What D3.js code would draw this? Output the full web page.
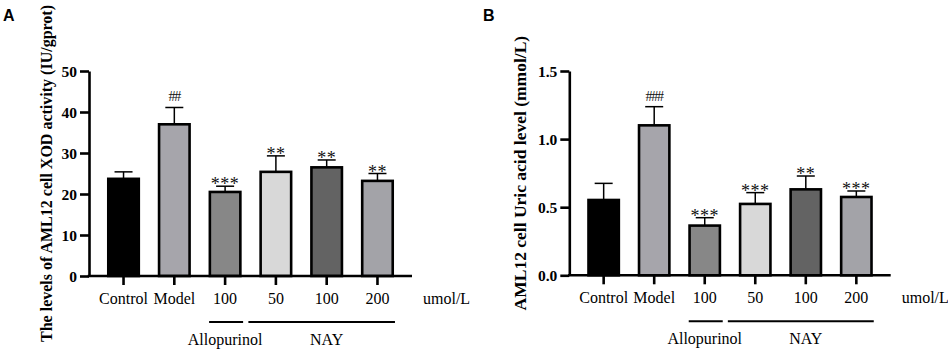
<!DOCTYPE html>
<html>
<head>
<meta charset="utf-8">
<script src="https://cdn.jsdelivr.net/npm/d3@7"></script>
<style>
  html, body { margin: 0; padding: 0; background: #fff; }
  svg { display: block; }
  .serif { font-family: "Liberation Serif", "Times New Roman", Times, serif; }
  .sans { font-family: "Liberation Sans", Arial, sans-serif; }
</style>
</head>
<body>
<svg id="chart" width="948" height="351"></svg>
<script>
// ---- data ----
const categories = ["Control", "Model", "100", "50", "100", "200"];
const barColors = ["#000000", "#a6a5ab", "#878787", "#d8d8d8", "#636363", "#a3a3a8"];

const xodMeans  = [23.7, 37.0, 20.5, 25.4, 26.5, 23.2];
const xodErrors = [1.7, 4.1, 1.4, 3.9, 1.8, 1.8];
const xodSig    = ["", "##", "***", "**", "**", "**"];
const xodTicks  = [0, 10, 20, 30, 40, 50];
const xodTitle  = "The levels of AML12 cell XOD activity (IU/gprot)";

const uricMeans  = [0.553, 1.101, 0.365, 0.524, 0.631, 0.575];
const uricErrors = [0.122, 0.137, 0.058, 0.083, 0.098, 0.044];
const uricSig    = ["", "###", "***", "***", "**", "***"];
const uricTicks  = [0.0, 0.5, 1.0, 1.5];
const uricTitle  = "AML12 cell Uric acid level (mmol/L)";

const unitLabel = "umol/L";
const groupLabels = ["Allopurinol", "NAY"];
const groupSpans = [[2, 2], [3, 5]];

const svg = d3.select("#chart");

function drawPanel(cfg) {
  const g = svg.append("g");
  const x = d3.scaleBand().domain(d3.range(categories.length))
    .range([cfg.left, cfg.right]).paddingInner(0.35).paddingOuter(0.355);
  const y = d3.scaleLinear().domain([cfg.ticks[0], cfg.ticks[cfg.ticks.length - 1]])
    .range([cfg.bottom, cfg.top]);

  g.append("text").attr("class", "sans").attr("x", cfg.letterX).attr("y", 21)
    .style("font-weight", "bold").style("font-size", "16px")
    .text(cfg.letter);

  const bw = x.bandwidth();
  g.selectAll("rect.bar").data(cfg.means).enter().append("rect")
    .attr("x", (d, i) => x(i) + 1.25)
    .attr("width", bw - 2.5)
    .attr("y", d => y(d))
    .attr("height", d => y(0) - y(d))
    .attr("fill", (d, i) => barColors[i])
    .attr("stroke", "#000").attr("stroke-width", 2.6);

  const cx = i => x(i) + bw / 2;
  cfg.means.forEach((m, i) => {
    const top = y(m + cfg.errors[i]);
    g.append("line").attr("x1", cx(i)).attr("x2", cx(i))
      .attr("y1", y(m)).attr("y2", top).attr("stroke", "#000").attr("stroke-width", 1.5);
    g.append("line").attr("x1", cx(i) - 9).attr("x2", cx(i) + 9)
      .attr("y1", top).attr("y2", top).attr("stroke", "#000").attr("stroke-width", 1.5);
    const s = cfg.sig[i];
    if (s) {
      const isHash = s[0] === "#";
      g.append("text").attr("class", "serif")
        .attr("x", cx(i)).attr("y", isHash ? top - 6 : top + 4)
        .attr("text-anchor", "middle")
        .style("font-size", isHash ? "14px" : "18px")
        .style("letter-spacing", isHash ? "-1.2px" : "0.5px")
        .attr("fill", "#111")
        .text(s);
    }
  });

  const yAxis = d3.axisLeft(y).tickValues(cfg.ticks).tickSize(9).tickSizeOuter(0)
    .tickFormat(cfg.fmt);
  const ya = g.append("g").attr("transform", `translate(${cfg.left},0)`).call(yAxis);
  ya.attr("font-family", null).attr("font-size", null);
  ya.select(".domain").attr("stroke-width", 2.6).attr("stroke", "#000");
  ya.selectAll(".tick line").attr("stroke-width", 2.6).attr("stroke", "#000");
  ya.selectAll(".tick text").attr("class", "serif")
    .style("font-weight", "bold").style("font-size", "15.5px")
    .attr("fill", "#000").attr("x", -12).attr("dy", "0.34em");

  const xAxis = d3.axisBottom(x).tickSize(9).tickSizeOuter(0).tickFormat(i => categories[i]);
  const xa = g.append("g").attr("transform", `translate(0,${cfg.bottom})`).call(xAxis);
  xa.attr("font-family", null).attr("font-size", null);
  xa.select(".domain").attr("stroke-width", 2.6).attr("stroke", "#000")
    .attr("d", `M${cfg.left - 1.3},0H${cfg.right}`);
  xa.selectAll(".tick line").attr("stroke-width", 2.6).attr("stroke", "#000");
  xa.selectAll(".tick text").attr("class", "serif").style("font-size", "16px")
    .attr("fill", "#000").attr("y", 22).attr("dy", "0.35em");

  g.append("text").attr("class", "serif").attr("x", cfg.right + 11).attr("y", cfg.bottom + 28)
    .style("font-size", "16px").text(unitLabel);

  groupSpans.forEach((sp, k) => {
    g.append("line").attr("x1", k === 0 ? cx(sp[0]) - 16 : x(sp[0]) - 11)
      .attr("x2", k === 0 ? cx(sp[1]) + 18 : x(sp[1]) + bw + 1)
      .attr("y1", cfg.bottom + 46).attr("y2", cfg.bottom + 46)
      .attr("stroke", "#000").attr("stroke-width", 2);
    const mid = k === 0 ? cx(sp[0]) : cx(4);
    g.append("text").attr("class", "serif").attr("x", mid).attr("y", cfg.bottom + 69)
      .attr("text-anchor", "middle").style("font-size", "16px")
      .text(groupLabels[k]);
  });

  g.append("text").attr("class", "serif")
    .attr("transform", `translate(${cfg.titleX},${(cfg.top + cfg.bottom) / 2}) rotate(-90)`)
    .attr("text-anchor", "middle").attr("dy", "0.35em")
    .style("font-weight", "bold").style("font-size", cfg.titleSize)
    .text(cfg.title);
}

drawPanel({
  letter: "A", letterX: 3, left: 89, right: 412, top: 71, bottom: 276,
  means: xodMeans, errors: xodErrors, sig: xodSig, ticks: xodTicks,
  fmt: d3.format("d"), title: xodTitle, titleX: 46, titleSize: "16px"
});
drawPanel({
  letter: "B", letterX: 483, left: 569.3, right: 890.7, top: 71, bottom: 275.3,
  means: uricMeans, errors: uricErrors, sig: uricSig, ticks: uricTicks,
  fmt: d3.format(".1f"), title: uricTitle, titleX: 520, titleSize: "17.5px"
});
</script>
</body>
</html>
